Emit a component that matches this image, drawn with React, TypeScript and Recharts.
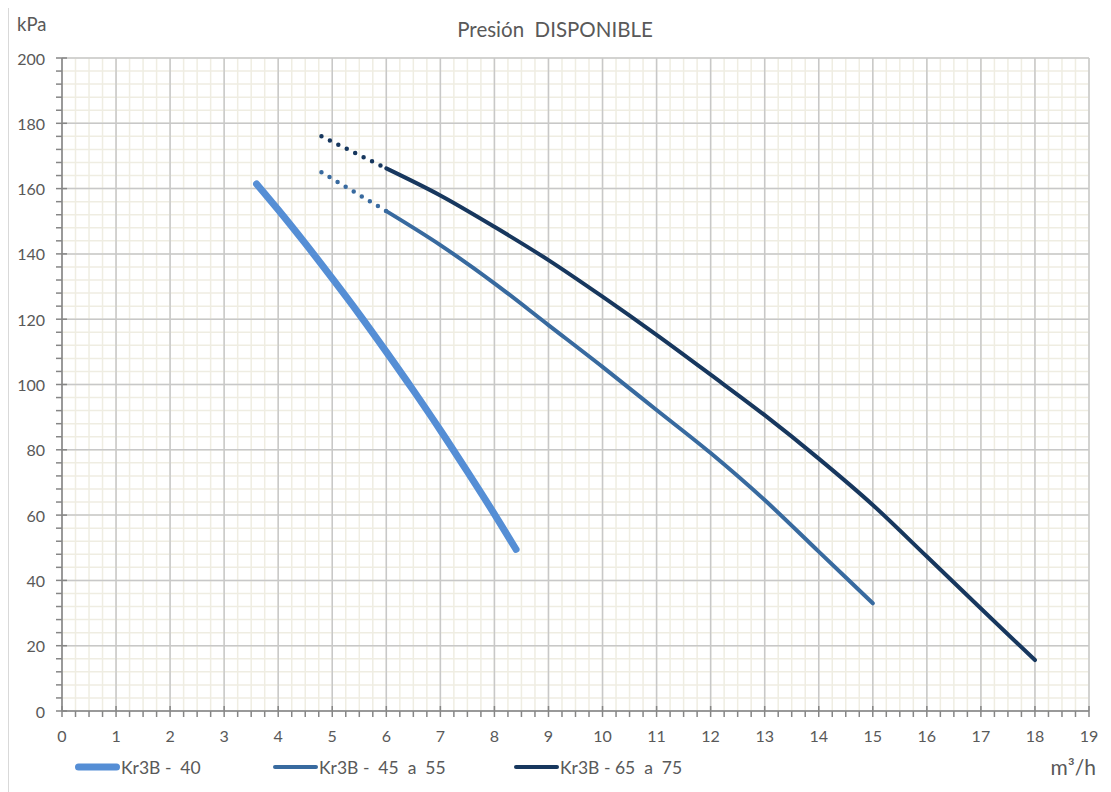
import React from 'react';
import { LineChart, Line, XAxis, YAxis, CartesianGrid, Legend } from 'recharts';

// Kr3B - 40
const flow40 = [3.6, 4, 4.5, 5, 5.5, 6, 6.5, 7, 7.5, 8, 8.4];
const pres40 = [161.4, 153.5, 143.2, 132.5, 121.5, 110, 98.2, 86, 73.3, 60.3, 49.5];
// Kr3B - 45 a 55
const flow45Dotted = [4.8, 6];
const pres45Dotted = [165, 153.1];
const flow45 = [6, 7, 8, 9, 10, 11, 12, 13, 14, 15];
const pres45 = [153.1, 142.7, 131, 118.2, 105.4, 92.2, 79, 64.6, 48.8, 33];
// Kr3B - 65 a 75
const flow65Dotted = [4.8, 6];
const pres65Dotted = [176, 166.2];
const flow65 = [6, 7, 8, 9, 10, 11, 12, 13, 14, 15, 16, 17, 18];
const pres65 = [166.2, 157.9, 148.3, 138.1, 126.9, 115.2, 103, 90.6, 77.3, 63.1, 47.3, 31.4, 15.6];

const seriesNames = ['Kr3B -  40', 'Kr3B -  45  a  55', 'Kr3B - 65  a  75'];
const seriesColors = ['#558ed5', '#386a9f', '#17375e'];
const seriesWidths = [7, 4, 4];

const xMajorTicks = Array.from({ length: 20 }, (_, i) => i);
const xMinorTicks = Array.from({ length: 77 }, (_, i) => i * 0.25);
const yMajorTicks = Array.from({ length: 11 }, (_, i) => i * 20);
const yMinorTicks = Array.from({ length: 51 }, (_, i) => i * 4);

const zip = (xs: number[], ys: number[]) => xs.map((x, i) => ({ x, y: ys[i] }));

const FONT = 'Lato, "Open Sans", sans-serif';
const TXT = '#595959';
const AXIS = '#868686';

const legendLefts = [66, 264, 505];

const XTick = (props: any) => {
  const { x, y, payload } = props;
  const v = payload.value as number;
  const major = v % 1 === 0;
  return (
    <g>
      <line x1={x} x2={x} y1={major ? y - 5 : y} y2={y + 6} stroke={AXIS} strokeWidth={1.5} />
      {major && (
        <text x={x} y={y + 24} textAnchor="middle" dominantBaseline="central" fill={TXT} fontSize={16} fontFamily={FONT}>
          {v}
        </text>
      )}
    </g>
  );
};

const YTick = (props: any) => {
  const { x, y, payload } = props;
  const v = payload.value as number;
  const major = v % 20 === 0;
  return (
    <g>
      <line x1={major ? x + 5 : x} x2={x - 6} y1={y} y2={y} stroke={AXIS} strokeWidth={1.5} />
      {major && (
        <text x={x - 17} y={y} textAnchor="end" dominantBaseline="central" fill={TXT} fontSize={16} fontFamily={FONT}>
          {v}
        </text>
      )}
    </g>
  );
};

const renderLegend = () => (
  <div style={{ position: 'relative', width: 1100, height: 24 }}>
    {seriesNames.map((name, i) => (
      <div
        key={name}
        style={{
          position: 'absolute',
          left: legendLefts[i],
          top: 0,
          height: 24,
          display: 'flex',
          alignItems: 'center',
        }}
      >
        <svg width={47} height={12} style={{ display: 'block' }}>
          <line
            x1={seriesWidths[i] / 2 + 1}
            y1={6}
            x2={46 - seriesWidths[i] / 2}
            y2={6}
            stroke={seriesColors[i]}
            strokeWidth={seriesWidths[i]}
            strokeLinecap="round"
          />
        </svg>
        <span style={{ whiteSpace: 'pre', fontFamily: FONT, fontSize: 17.5, color: TXT }}>{name}</span>
      </div>
    ))}
  </div>
);

export default function App() {
  return (
    <div
      style={{
        position: 'relative',
        top: -5,
        width: 1100,
        height: 795,
        outline: '1px solid #d9d9d9',
        outlineOffset: -1,
        fontFamily: FONT,
      }}
    >
      <div style={{ position: 'absolute', left: 11, top: -15, fontSize: 16, lineHeight: '16px', color: TXT }}>g</div>
      <div
        style={{
          position: 'absolute',
          left: 0,
          width: 1094,
          top: 13,
          textAlign: 'center',
          fontSize: 20.5,
          lineHeight: '26px',
          color: TXT,
          whiteSpace: 'pre',
        }}
      >
        Presión  DISPONIBLE
      </div>
      <div style={{ position: 'absolute', left: 9, top: 10, fontSize: 18.5, lineHeight: '22px', color: TXT }}>kPa</div>
      <div style={{ position: 'absolute', right: 12, top: 751, fontSize: 21, lineHeight: '26px', color: TXT }}>m³/h</div>
      <LineChart width={1100} height={795} margin={{ top: 55, right: 19, bottom: 57, left: 0 }}>
        <XAxis
          xAxisId="main"
          type="number"
          dataKey="x"
          domain={[0, 19]}
          ticks={xMinorTicks}
          interval={0}
          tickSize={0}
          tickMargin={0}
          height={30}
          axisLine={{ stroke: AXIS, strokeWidth: 1.5 }}
          tickLine={false}
          tick={XTick}
          allowDataOverflow
        />
        <YAxis
          yAxisId="main"
          type="number"
          domain={[0, 200]}
          ticks={yMinorTicks}
          interval={0}
          tickSize={0}
          tickMargin={0}
          width={54}
          axisLine={{ stroke: AXIS, strokeWidth: 1.5 }}
          tickLine={false}
          tick={YTick}
          allowDataOverflow
        />
        <CartesianGrid
          xAxisId="main"
          yAxisId="main"
          verticalValues={xMinorTicks}
          horizontalValues={yMinorTicks}
          stroke="#efede2"
          strokeWidth={1.5}
        />
        <CartesianGrid
          xAxisId="main"
          yAxisId="main"
          verticalValues={xMajorTicks}
          horizontalValues={yMajorTicks}
          stroke="#c8c8c8"
          strokeWidth={1.5}
        />
        <Line
          xAxisId="main"
          yAxisId="main"
          data={zip(flow40, pres40)}
          dataKey="y"
          name={seriesNames[0]}
          type="monotone"
          stroke={seriesColors[0]}
          strokeWidth={seriesWidths[0]}
          strokeLinecap="round"
          dot={false}
          activeDot={false}
          isAnimationActive={false}
        />
        <Line
          xAxisId="main"
          yAxisId="main"
          data={zip(flow45Dotted, pres45Dotted)}
          dataKey="y"
          name="dotted45"
          legendType="none"
          type="linear"
          stroke={seriesColors[1]}
          strokeWidth={4.5}
          strokeDasharray="0 9.4"
          strokeLinecap="round"
          dot={false}
          activeDot={false}
          isAnimationActive={false}
        />
        <Line
          xAxisId="main"
          yAxisId="main"
          data={zip(flow45, pres45)}
          dataKey="y"
          name={seriesNames[1]}
          type="monotone"
          stroke={seriesColors[1]}
          strokeWidth={seriesWidths[1]}
          strokeLinecap="round"
          dot={false}
          activeDot={false}
          isAnimationActive={false}
        />
        <Line
          xAxisId="main"
          yAxisId="main"
          data={zip(flow65Dotted, pres65Dotted)}
          dataKey="y"
          name="dotted65"
          legendType="none"
          type="linear"
          stroke={seriesColors[2]}
          strokeWidth={4.5}
          strokeDasharray="0 9.4"
          strokeLinecap="round"
          dot={false}
          activeDot={false}
          isAnimationActive={false}
        />
        <Line
          xAxisId="main"
          yAxisId="main"
          data={zip(flow65, pres65)}
          dataKey="y"
          name={seriesNames[2]}
          type="monotone"
          stroke={seriesColors[2]}
          strokeWidth={seriesWidths[2]}
          strokeLinecap="round"
          dot={false}
          activeDot={false}
          isAnimationActive={false}
        />
        <Legend
          verticalAlign="middle"
          layout="horizontal"
          content={renderLegend}
          wrapperStyle={{ position: 'absolute', left: 0, top: 752, width: 1100, height: 24 }}
        />
      </LineChart>
    </div>
  );
}
